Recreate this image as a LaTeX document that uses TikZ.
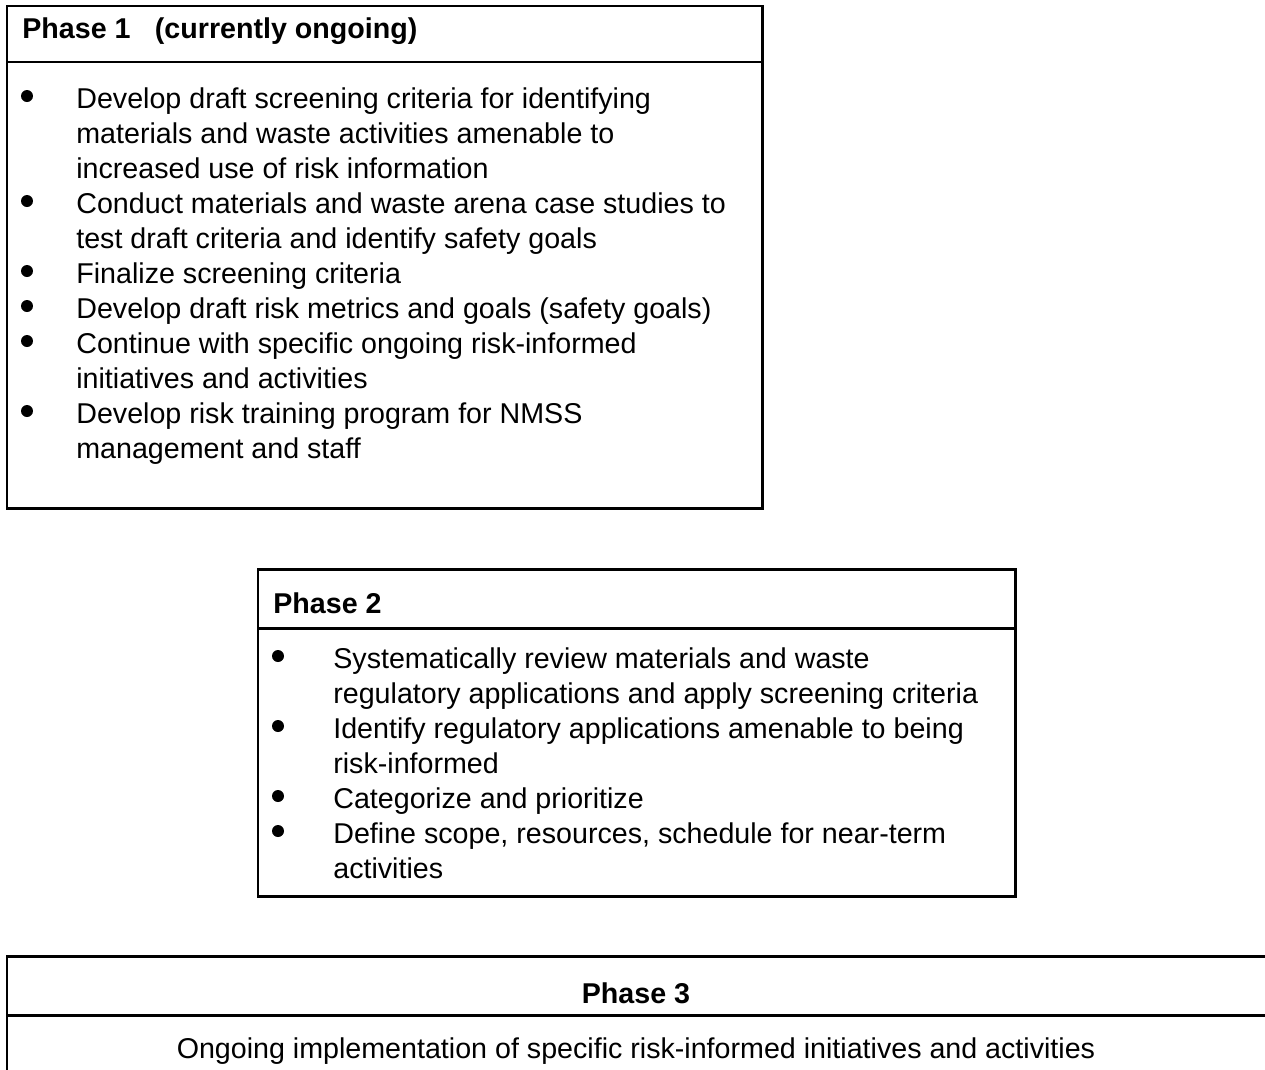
\documentclass[tikz,border=0pt]{standalone}
\usepackage{fontspec}
\setmainfont{Liberation Sans}
\usetikzlibrary{positioning}

\tikzset{
  phasebox/.style={draw,line width=1.7pt},
  headtxt/.style={anchor=base west,inner sep=0pt,font=\fontsize{16.3}{19}\selectfont\bfseries},
  itemtxt/.style={anchor=base west,inner sep=0pt,font=\fontsize{16.3}{19}\selectfont},
  bulletmark/.style={circle,fill,inner sep=0pt,minimum size=0.24cm}
}

\begin{document}
\begin{tikzpicture}[x=0.02cm,y=-0.02cm]
  \useasboundingbox (0,0) rectangle (1265,1069);
  \clip (0,0) rectangle (1265,1069);

  % Phase 1
  \draw[phasebox] (7,6) rectangle (762,508);
  \draw[phasebox] (7,62) -- (762,62);
  \node[headtxt] (pone) at (22,38) {Phase 1\hspace{0.85em}(currently ongoing)};
  \foreach \t [count=\i] in {
      Develop draft screening criteria for identifying,
      materials and waste activities amenable to,
      increased use of risk information,
      Conduct materials and waste arena case studies to,
      test draft criteria and identify safety goals,
      Finalize screening criteria,
      Develop draft risk metrics and goals (safety goals),
      Continue with specific ongoing risk-informed,
      initiatives and activities,
      Develop risk training program for NMSS,
      management and staff}
    \node[itemtxt] (ponel\i) at (76,{108+35*(\i-1)}) {\t};
  \foreach \i in {1,4,6,7,8,10}
    \node[bulletmark] (poneb\i) at (27,{96+35*(\i-1)}) {};

  % Phase 2
  \draw[phasebox] (258,569) rectangle (1015,896);
  \draw[phasebox] (258,628) -- (1015,628);
  \node[headtxt] (ptwo) at (273,613) {Phase 2};
  \foreach \t [count=\i] in {
      Systematically review materials and waste,
      regulatory applications and apply screening criteria,
      Identify regulatory applications amenable to being,
      risk-informed,
      Categorize and prioritize,
      {Define scope, resources, schedule for near-term},
      activities}
    \node[itemtxt] (ptwol\i) at (333,{668+35*(\i-1)}) {\t};
  \foreach \i in {1,3,5,6}
    \node[bulletmark] (ptwob\i) at (278,{656+35*(\i-1)}) {};

  % Phase 3
  \draw[phasebox] (7,1080) -- (7,956) -- (1280,956);
  \draw[phasebox] (7,1015) -- (1280,1015);
  \node[headtxt,anchor=base] (pthree) at (636,1003) {Phase 3};
  \node[itemtxt,anchor=base] (pthreel) at (636,1058)
    {Ongoing implementation of specific risk-informed initiatives and activities};
\end{tikzpicture}
\end{document}
